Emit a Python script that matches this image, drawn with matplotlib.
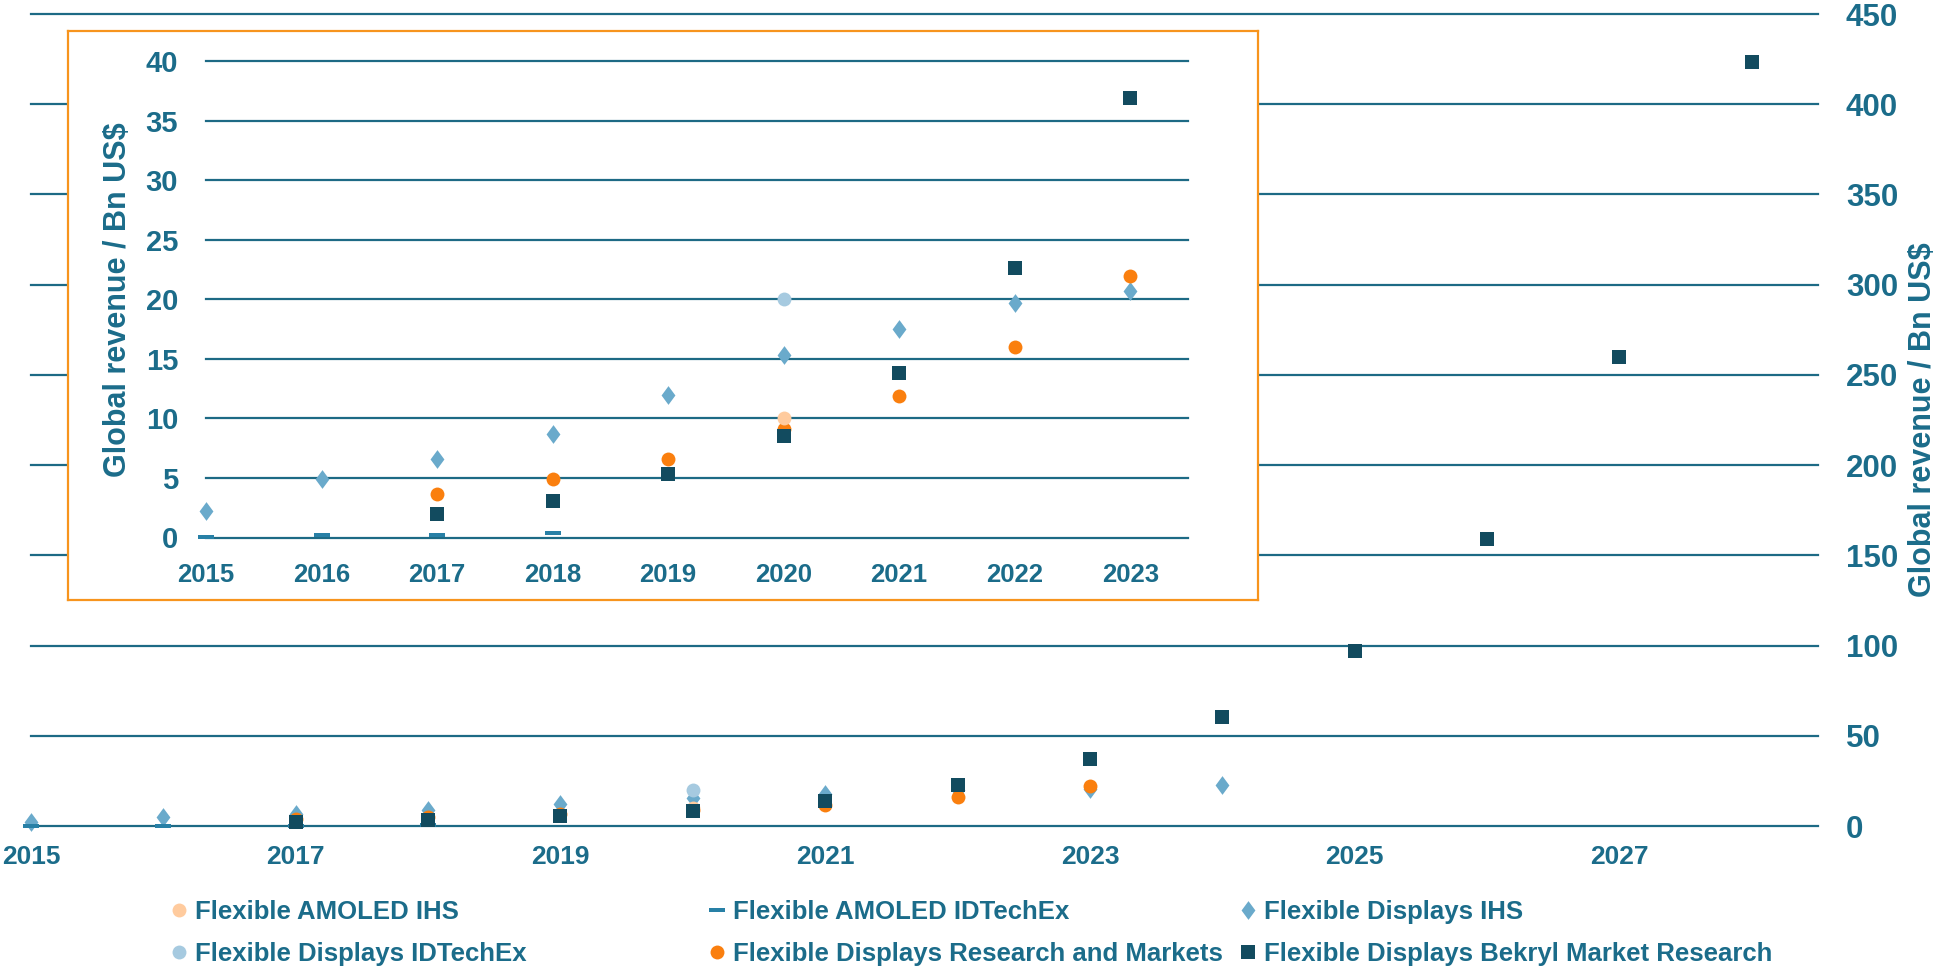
import matplotlib
matplotlib.use("Agg")
import matplotlib.pyplot as plt
from matplotlib.lines import Line2D
from matplotlib.path import Path
import numpy as np

plt.rcParams['font.family'] = ['Liberation Sans', 'DejaVu Sans']
plt.rcParams['font.weight'] = 'bold'

# ---------------- data ----------------
amoled_ihs_years = [2020]
amoled_ihs_vals = [10.0]

amoled_idtechex_years = [2015, 2016, 2017, 2018]
amoled_idtechex_vals = [0.05, 0.2, 0.2, 0.4]

displays_ihs_years = [2015, 2016, 2017, 2018, 2019, 2020, 2021, 2022, 2023, 2024]
displays_ihs_vals = [2.2, 4.9, 6.6, 8.7, 12.0, 15.3, 17.5, 19.7, 20.7, 22.6]

displays_idtechex_years = [2020]
displays_idtechex_vals = [20.0]

rm_years = [2017, 2018, 2019, 2020, 2021, 2022, 2023]
rm_vals = [3.65, 4.9, 6.6, 9.1, 11.9, 16.0, 22.0]

bekryl_years = [2017, 2018, 2019, 2020, 2021, 2022, 2023, 2024, 2025, 2026, 2027, 2028]
bekryl_vals = [2.0, 3.1, 5.3, 8.5, 13.85, 22.6, 36.9, 60.4, 97.2, 159.0, 260.0, 423.6]

main_xticks = [2015, 2017, 2019, 2021, 2023, 2025, 2027]
main_yticks = [0, 50, 100, 150, 200, 250, 300, 350, 400, 450]
inset_xticks = [2015, 2016, 2017, 2018, 2019, 2020, 2021, 2022, 2023]
inset_yticks = [0, 5, 10, 15, 20, 25, 30, 35, 40]

labels = ["Flexible AMOLED IHS", "Flexible AMOLED IDTechEx", "Flexible Displays IHS",
          "Flexible Displays IDTechEx", "Flexible Displays Research and Markets",
          "Flexible Displays Bekryl Market Research"]

# ---------------- style ----------------
TEXT = '#1B6C8A'
GRID = '#1D6A85'
FRAME = '#F7941D'
C_BEK = '#124B5F'
C_DIA = '#6AAACB'
C_LB = '#A6CAE0'
C_PEACH = '#FFCB9E'
C_OR = '#FA7F0E'
C_DASH = '#2880A6'

dash_marker = Path([(-1, -0.3), (1, -0.3), (1, 0.3), (-1, 0.3), (-1, -0.3)],
                   [Path.MOVETO, Path.LINETO, Path.LINETO, Path.LINETO, Path.CLOSEPOLY])
diamond_marker = Path([(0, -1.15), (0.85, 0), (0, 1.15), (-0.85, 0), (0, -1.15)],
                      [Path.MOVETO, Path.LINETO, Path.LINETO, Path.LINETO, Path.CLOSEPOLY])

W, H = 1939, 968
fig = plt.figure(figsize=(W / 100, H / 100), dpi=100)


def fx(px):
    return px / W


def fy(py):
    return 1 - py / H


series = [
    (amoled_ihs_years, amoled_ihs_vals, 'o', C_PEACH, 10, 5),
    (amoled_idtechex_years, amoled_idtechex_vals, dash_marker, C_DASH, 11, 6),
    (displays_ihs_years, displays_ihs_vals, diamond_marker, C_DIA, 13.5, 3),
    (displays_idtechex_years, displays_idtechex_vals, 'o', C_LB, 10, 4),
    (rm_years, rm_vals, 'o', C_OR, 10, 3.5),
    (bekryl_years, bekryl_vals, 's', C_BEK, 10.5, 7),
]


def draw(ax, xmax):
    for yrs, vals, mk, col, ms, z in series:
        yrs = np.array(yrs)
        vals = np.array(vals)
        m = yrs <= xmax
        ax.plot(yrs[m], vals[m], linestyle='none', marker=mk, color=col,
                markersize=ms, markeredgewidth=0, zorder=z, clip_on=False)


# ---------------- main axes ----------------
ax = fig.add_axes([fx(31), fy(826), fx(1818 - 31), (826 - 14) / H])
ax.set_xlim(2015, 2028.5)
ax.set_ylim(0, 450)
for s in ax.spines.values():
    s.set_visible(False)
ax.yaxis.tick_right()
ax.set_yticks(main_yticks)
ax.set_xticks(main_xticks)
ax.tick_params(axis='y', length=0, pad=20, labelsize=22.5, labelcolor=TEXT)
ax.tick_params(axis='x', length=0, pad=13.5, labelsize=19, labelcolor=TEXT)
for t in ax.get_yticklabels():
    t.set_horizontalalignment('left')
ax.grid(axis='y', color=GRID, lw=1.6, zorder=0)
ax.set_axisbelow(True)
draw(ax, 2028)
for g in ax.get_ygridlines():
    g.set_clip_on(False)
fig.text(fx(1923), fy(420), "Global revenue / Bn US$", rotation=90, ha='center', va='center',
         fontsize=22, color=TEXT, fontweight='bold')

# ---------------- inset frame ----------------
fr = fig.add_axes([fx(68), fy(600), fx(1258 - 68), (600 - 31) / H])
fr.set_facecolor('white')
fr.set_xticks([])
fr.set_yticks([])
for s in fr.spines.values():
    s.set_color(FRAME)
    s.set_linewidth(1.6)
fr.set_zorder(5)

# ---------------- inset axes ----------------
ia = fig.add_axes([fx(206), fy(537.5), fx(1188 - 206), (537.5 - 61.3) / H])
ia.set_zorder(6)
ia.patch.set_alpha(0)
ia.set_xlim(2015, 2023.5)
ia.set_ylim(0, 40)
for s in ia.spines.values():
    s.set_visible(False)
ia.set_xticks(inset_xticks)
ia.set_yticks(inset_yticks)
ia.tick_params(axis='y', length=0, pad=20, labelsize=21, labelcolor=TEXT)
ia.tick_params(axis='x', length=0, pad=18, labelsize=18.5, labelcolor=TEXT)
ia.grid(axis='y', color=GRID, lw=1.6, zorder=0)
ia.set_axisbelow(True)
draw(ia, 2023)
for g in ia.get_ygridlines():
    g.set_clip_on(False)
fig.text(fx(118), fy(300), "Global revenue / Bn US$", rotation=90, ha='center', va='center',
         fontsize=22, color=TEXT, fontweight='bold', zorder=10)

# ---------------- legend ----------------
handles = []
for yrs, vals, mk, col, ms, z in series:
    handles.append(Line2D([], [], linestyle='none', marker=mk, color=col,
                          markersize=ms, markeredgewidth=0))

col_x = [171, 709, 1240]
for i, x0 in enumerate(col_x):
    hs = [handles[i], handles[i + 3]]
    ls = [labels[i], labels[i + 3]]
    leg = fig.legend(hs, ls, loc='center left', bbox_to_anchor=(fx(x0), fy(933)),
                     frameon=False, fontsize=18.5, handlelength=0.6, handletextpad=0.32,
                     labelspacing=0.72, borderpad=0, borderaxespad=0)
    for t in leg.get_texts():
        t.set_color(TEXT)
        t.set_fontweight('bold')

fig.savefig("out.png", dpi=100)
